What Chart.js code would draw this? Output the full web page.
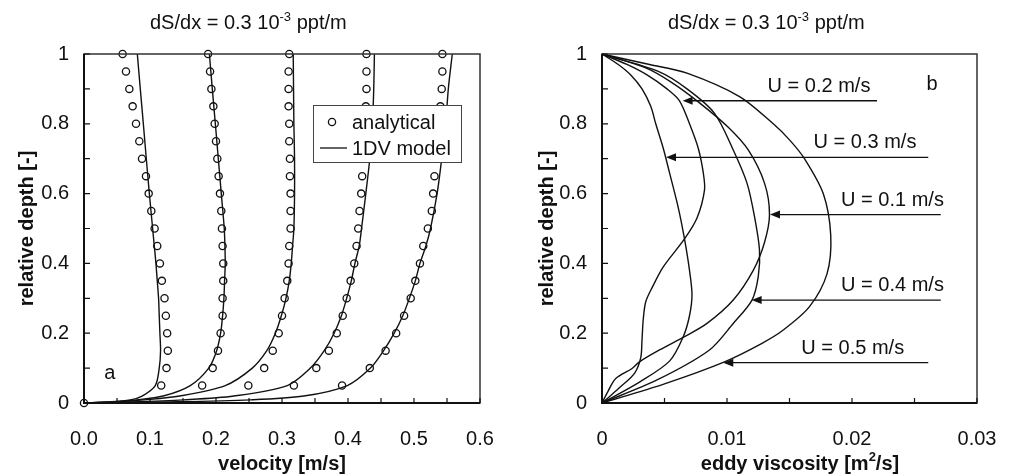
<!DOCTYPE html>
<html>
<head>
<meta charset="utf-8">
<script src="https://cdn.jsdelivr.net/npm/chart.js@4.4.1/dist/chart.umd.min.js"></script>
<style>
  body { margin: 0; background: #fff; width: 1013px; height: 476px; overflow: hidden; position: relative; }
  canvas { position: absolute; top: 0; }
  #velChart { left: 0; }
  #viscChart { left: 506px; }
</style>
</head>
<body>
<canvas id="velChart" width="506" height="476"></canvas>
<canvas id="viscChart" width="507" height="476"></canvas>
<script>
// ---- panel a: velocity profiles ----
const circleDepth = [1.0, 0.95, 0.9, 0.85, 0.8, 0.75, 0.7, 0.65, 0.6, 0.55, 0.5, 0.45, 0.4, 0.35, 0.3, 0.25, 0.2, 0.15, 0.1, 0.05];
const analytical1 = [0.0585, 0.0636, 0.0687, 0.0737, 0.0788, 0.0838, 0.0879, 0.0939, 0.098, 0.102, 0.107, 0.111, 0.115, 0.118, 0.122, 0.124, 0.126, 0.127, 0.125, 0.117];
const analytical2 = [0.188, 0.191, 0.193, 0.196, 0.198, 0.200, 0.202, 0.204, 0.206, 0.208, 0.209, 0.210, 0.211, 0.211, 0.210, 0.210, 0.207, 0.203, 0.195, 0.179];
const analytical3 = [0.311, 0.310, 0.310, 0.310, 0.311, 0.311, 0.312, 0.312, 0.313, 0.313, 0.313, 0.311, 0.310, 0.308, 0.304, 0.300, 0.295, 0.286, 0.273, 0.249];
const analytical4 = [0.428, 0.428, 0.428, 0.427, 0.426, 0.425, 0.423, 0.4215, 0.420, 0.4175, 0.4155, 0.413, 0.4095, 0.404, 0.398, 0.392, 0.383, 0.371, 0.352, 0.318];
const analytical5 = [0.543, 0.543, 0.542, 0.540, 0.538, 0.536, 0.533, 0.531, 0.529, 0.527, 0.521, 0.514, 0.509, 0.502, 0.495, 0.485, 0.473, 0.457, 0.433, 0.391];

const modelDepth = [0, 0.003, 0.009, 0.02, 0.05, 0.1, 0.15, 0.2, 0.25, 0.3, 0.35, 0.4, 0.45, 0.5, 0.6, 0.7, 0.8, 0.9, 1.0];
const model1 = [0, 0.035, 0.070, 0.088, 0.108, 0.114, 0.116, 0.115, 0.114, 0.113, 0.111, 0.109, 0.1065, 0.104, 0.099, 0.0944, 0.0899, 0.0853, 0.0808];
const model2 = [0, 0.04, 0.08, 0.12, 0.161, 0.189, 0.201, 0.207, 0.210, 0.212, 0.213, 0.214, 0.2135, 0.2125, 0.208, 0.2035, 0.199, 0.1944, 0.190];
const model3 = [0, 0.045, 0.091, 0.145, 0.214, 0.255, 0.277, 0.290, 0.299, 0.306, 0.311, 0.314, 0.316, 0.318, 0.319, 0.319, 0.318, 0.3175, 0.317];
const model4 = [0, 0.07, 0.151, 0.227, 0.308, 0.343, 0.364, 0.379, 0.390, 0.398, 0.405, 0.4105, 0.417, 0.4205, 0.427, 0.433, 0.437, 0.439, 0.440];
const model5 = [0, 0.121, 0.252, 0.333, 0.399, 0.434, 0.454, 0.470, 0.483, 0.493, 0.502, 0.509, 0.518, 0.525, 0.535, 0.542, 0.548, 0.552, 0.558];

// ---- panel b: eddy viscosity profiles ----
const depthU03 = [1, 0.97, 0.94, 0.9, 0.85, 0.8, 0.73, 0.66, 0.56, 0.47, 0.38, 0.31, 0.25, 0.19, 0.12, 0.06, 0];
const viscU03 = [0, 0.0013, 0.0023, 0.0032, 0.0039, 0.0043, 0.0049, 0.0054, 0.0061, 0.0066, 0.0070, 0.0072, 0.0070, 0.0065, 0.0054, 0.0030, 0];
const depthU02 = [1, 0.97, 0.94, 0.9, 0.866, 0.8, 0.73, 0.66, 0.61, 0.53, 0.47, 0.39, 0.33, 0.29, 0.24, 0.18, 0.13, 0.085, 0.047, 0.023, 0];
const viscU02 = [0, 0.0020, 0.0036, 0.0052, 0.0062, 0.0070, 0.0077, 0.0081, 0.0082, 0.0076, 0.0066, 0.0049, 0.0040, 0.0035, 0.0033, 0.0032, 0.0031, 0.0026, 0.0015, 0.00075, 0];
const depthU01 = [1, 0.96, 0.92, 0.86, 0.79, 0.725, 0.63, 0.54, 0.46, 0.38, 0.295, 0.228, 0.19, 0.152, 0.118, 0.099, 0.07, 0.035, 0];
const viscU01 = [0, 0.0035, 0.0055, 0.0078, 0.0101, 0.0117, 0.0130, 0.0134, 0.0130, 0.0121, 0.0105, 0.0084, 0.0066, 0.0046, 0.0030, 0.0024, 0.0011, 0.0005, 0];
const depthU04 = [1, 0.95, 0.9, 0.83, 0.725, 0.63, 0.534, 0.438, 0.362, 0.295, 0.228, 0.152, 0.066, 0];
const viscU04 = [0, 0.0045, 0.0068, 0.0090, 0.0105, 0.0116, 0.0122, 0.0126, 0.0125, 0.0120, 0.0105, 0.0086, 0.0044, 0];
const depthU05 = [1, 0.97, 0.945, 0.878, 0.80, 0.754, 0.70, 0.6, 0.48, 0.37, 0.276, 0.209, 0.171, 0.118, 0.055, 0];
const viscU05 = [0, 0.0038, 0.0068, 0.0110, 0.0137, 0.0150, 0.0162, 0.0177, 0.0183, 0.0180, 0.0166, 0.0145, 0.0128, 0.0098, 0.0050, 0];

// arrow annotations (data coordinates)
const arrowLabels = ['U = 0.2 m/s', 'U = 0.3 m/s', 'U = 0.1 m/s', 'U = 0.4 m/s', 'U = 0.5 m/s'];
const arrowDepth = [0.866, 0.704, 0.54, 0.295, 0.1155];
const arrowTipVisc = [0.00645, 0.00512, 0.01344, 0.01197, 0.0097];
const arrowEndVisc = [0.0220, 0.0261, 0.0271, 0.0271, 0.0261];
const arrowLabelVisc = [0.01736, 0.02104, 0.02324, 0.02324, 0.02006];

const FONT = "'Liberation Sans', Arial, Helvetica, sans-serif";
Chart.defaults.font.family = FONT;
Chart.defaults.font.size = 20;
Chart.defaults.color = '#111';

function pairs(xs, ys) {
    let out = [];
    for (let i = 0; i < xs.length; i++) {
        out.push({x: xs[i], y: ys[i]});
    }
    return out;
}

function lineSet(xs, ys) {
    return {
        data: pairs(xs, ys),
        showLine: true,
        borderColor: '#111',
        borderWidth: 1.4,
        pointRadius: 0,
        tension: 0.3,
        clip: false
    };
}

function circleSet(xs, ys) {
    return {
        data: pairs(xs, ys),
        showLine: false,
        pointStyle: 'circle',
        pointRadius: 3.6,
        pointBorderWidth: 1.3,
        pointBorderColor: '#111',
        pointBackgroundColor: 'rgba(0,0,0,0)',
        clip: false
    };
}

// frame box plus inward tick marks on bottom and left
const framePlugin = {
    id: 'frame',
    afterDatasetsDraw(chart) {
        const ctx = chart.ctx;
        const a = chart.chartArea;
        const xs = chart.scales.x, ys = chart.scales.y;
        ctx.save();
        ctx.strokeStyle = '#333';
        ctx.lineWidth = 1.5;
        ctx.strokeRect(a.left, a.top, a.right - a.left, a.bottom - a.top);
        ctx.strokeStyle = '#111';
        ctx.lineWidth = 2;
        ctx.beginPath();
        ctx.moveTo(a.left, a.top);
        ctx.lineTo(a.left, a.bottom);
        ctx.lineTo(a.right, a.bottom);
        ctx.stroke();
        ctx.lineWidth = 1.2;
        ctx.beginPath();
        xs.ticks.forEach(t => {
            const px = xs.getPixelForValue(t.value);
            ctx.moveTo(px, a.bottom);
            ctx.lineTo(px, a.bottom - 5);
        });
        ys.ticks.forEach(t => {
            const py = ys.getPixelForValue(t.value);
            ctx.moveTo(a.left, py);
            ctx.lineTo(a.left + 6, py);
        });
        ctx.stroke();
        ctx.restore();
    }
};

// text pieces with superscripts
const richTextPlugin = {
    id: 'richText',
    afterDraw(chart, args, opts) {
        const ctx = chart.ctx;
        ctx.save();
        ctx.fillStyle = '#111';
        ctx.textBaseline = 'alphabetic';
        ctx.textAlign = 'left';
        opts.items.forEach(item => {
            let total = 0;
            item.parts.forEach(p => {
                ctx.font = (p.bold ? 'bold ' : '') + p.size + 'px ' + FONT;
                total += ctx.measureText(p.text).width;
            });
            let x = item.align === 'center' ? item.x - total / 2 : item.x;
            item.parts.forEach(p => {
                ctx.font = (p.bold ? 'bold ' : '') + p.size + 'px ' + FONT;
                ctx.fillText(p.text, x, item.y - (p.rise || 0));
                x += ctx.measureText(p.text).width;
            });
        });
        ctx.restore();
    }
};

const titleParts = [
    {text: 'dS/dx = 0.3 10', size: 20},
    {text: '-3', size: 13, rise: 8},
    {text: ' ppt/m', size: 20}
];

// legend box and panel letter for panel a
const velNotes = {
    id: 'velNotes',
    afterDraw(chart) {
        const ctx = chart.ctx;
        const a = chart.chartArea;
        const xs = chart.scales.x, ys = chart.scales.y;
        ctx.save();
        ctx.font = '20px ' + FONT;
        ctx.fillStyle = '#111';
        ctx.textAlign = 'center';
        ctx.textBaseline = 'middle';
        ctx.fillText('a', xs.getPixelForValue(0.039), ys.getPixelForValue(0.086));

        let bx = a.left + 229, by = a.top + 51;
        ctx.fillStyle = '#fff';
        ctx.fillRect(bx, by, 148, 57);
        ctx.strokeStyle = '#444';
        ctx.lineWidth = 1;
        ctx.strokeRect(bx + 0.5, by + 0.5, 148, 57);

        ctx.strokeStyle = '#111';
        ctx.lineWidth = 1.3;
        ctx.beginPath();
        ctx.arc(bx + 19, by + 17, 3.6, 0, Math.PI * 2);
        ctx.stroke();
        ctx.beginPath();
        ctx.moveTo(bx + 7, by + 43);
        ctx.lineTo(bx + 34, by + 43);
        ctx.stroke();

        ctx.fillStyle = '#111';
        ctx.textAlign = 'left';
        ctx.textBaseline = 'alphabetic';
        ctx.fillText('analytical', bx + 39, by + 24);
        ctx.fillText('1DV model', bx + 39, by + 50);
        ctx.restore();
    }
};

// arrows with U labels for panel b
const viscNotes = {
    id: 'viscNotes',
    afterDraw(chart) {
        const ctx = chart.ctx;
        const xs = chart.scales.x, ys = chart.scales.y;
        ctx.save();
        ctx.strokeStyle = '#111';
        ctx.fillStyle = '#111';
        ctx.lineWidth = 1.3;
        ctx.font = '20px ' + FONT;
        for (let i = 0; i < arrowLabels.length; i++) {
            const py = ys.getPixelForValue(arrowDepth[i]);
            const tip = xs.getPixelForValue(arrowTipVisc[i]);
            const end = xs.getPixelForValue(arrowEndVisc[i]);
            ctx.beginPath();
            ctx.moveTo(tip + 8, py);
            ctx.lineTo(end, py);
            ctx.stroke();
            ctx.beginPath();
            ctx.moveTo(tip, py);
            ctx.lineTo(tip + 10, py - 4);
            ctx.lineTo(tip + 10, py + 4);
            ctx.closePath();
            ctx.fill();
            ctx.textAlign = 'center';
            ctx.textBaseline = 'alphabetic';
            ctx.fillText(arrowLabels[i], xs.getPixelForValue(arrowLabelVisc[i]), py - 9);
        }
        ctx.textAlign = 'center';
        ctx.textBaseline = 'middle';
        ctx.fillText('b', xs.getPixelForValue(0.0264), ys.getPixelForValue(0.914));
        ctx.restore();
    }
};

function depthAxis(titlePad) {
    return {
        type: 'linear',
        min: 0,
        max: 1,
        afterFit: null,
        grid: {display: false, drawTicks: false},
        border: {display: false},
        ticks: {
            stepSize: 0.1,
            autoSkip: false,
            padding: 15,
            callback: v => {
                const k = Math.round(v * 10);
                if (k % 2 !== 0) return '';
                if (k === 0) return '0';
                if (k === 10) return '1';
                return (k / 10).toFixed(1);
            }
        },
        title: {display: true, text: 'relative depth [-]', font: {weight: 'bold', size: 20}, padding: {top: titlePad, bottom: 0}}
    };
}

// fixed scale sizes so the plot areas sit where the reference has them
function fitX(s) {
    s.height = 73;
    s.paddingLeft = 0;
    s.paddingRight = 0;
}

let velY = depthAxis(15);
velY.afterFit = s => { s.width = 84; };

new Chart(document.getElementById('velChart'), {
    type: 'scatter',
    data: {
        datasets: [
            lineSet(model1, modelDepth),
            lineSet(model2, modelDepth),
            lineSet(model3, modelDepth),
            lineSet(model4, modelDepth),
            lineSet(model5, modelDepth),
            circleSet(analytical1, circleDepth),
            circleSet(analytical2, circleDepth),
            circleSet(analytical3, circleDepth),
            circleSet(analytical4, circleDepth),
            circleSet(analytical5, circleDepth),
            circleSet([0], [0])
        ]
    },
    options: {
        responsive: false,
        animation: false,
        layout: {padding: {top: 54, right: 26, left: 0, bottom: 0}},
        plugins: {
            legend: {display: false},
            tooltip: {enabled: false},
            richText: {items: [{x: 150, y: 29, align: 'left', parts: titleParts}]}
        },
        scales: {
            x: {
                type: 'linear',
                min: 0,
                max: 0.6,
                afterFit: fitX,
                grid: {display: false, drawTicks: false},
                border: {display: false},
                ticks: {
                    stepSize: 0.05,
                    autoSkip: false,
                    maxRotation: 0,
                    padding: 24,
                    callback: v => {
                        const k = Math.round(v * 100);
                        return k % 10 === 0 ? (k / 100).toFixed(1) : '';
                    }
                },
                title: {display: true, text: 'velocity [m/s]', font: {weight: 'bold', size: 20}, padding: {top: 0, bottom: 0}}
            },
            y: velY
        }
    },
    plugins: [framePlugin, richTextPlugin, velNotes]
});

let viscY = depthAxis(29);
viscY.afterFit = s => { s.width = 96; };

new Chart(document.getElementById('viscChart'), {
    type: 'scatter',
    data: {
        datasets: [
            lineSet(viscU03, depthU03),
            lineSet(viscU02, depthU02),
            lineSet(viscU01, depthU01),
            lineSet(viscU04, depthU04),
            lineSet(viscU05, depthU05)
        ]
    },
    options: {
        responsive: false,
        animation: false,
        layout: {padding: {top: 54, right: 36, left: 0, bottom: 0}},
        plugins: {
            legend: {display: false},
            tooltip: {enabled: false},
            richText: {items: [
                {x: 162, y: 29, align: 'left', parts: titleParts},
                {x: 294, y: 470, align: 'center', parts: [
                    {text: 'eddy viscosity [m', size: 20, bold: true},
                    {text: '2', size: 13, bold: true, rise: 9},
                    {text: '/s]', size: 20, bold: true}
                ]}
            ]}
        },
        scales: {
            x: {
                type: 'linear',
                min: 0,
                max: 0.03,
                afterFit: fitX,
                grid: {display: false, drawTicks: false},
                border: {display: false},
                ticks: {
                    stepSize: 0.005,
                    autoSkip: false,
                    maxRotation: 0,
                    padding: 24,
                    callback: v => {
                        const k = Math.round(v * 1000);
                        if (k % 10 !== 0) return '';
                        return k === 0 ? '0' : (k / 1000).toFixed(2);
                    }
                },
                title: {display: false}
            },
            y: viscY
        }
    },
    plugins: [framePlugin, richTextPlugin, viscNotes]
});
</script>
</body>
</html>
